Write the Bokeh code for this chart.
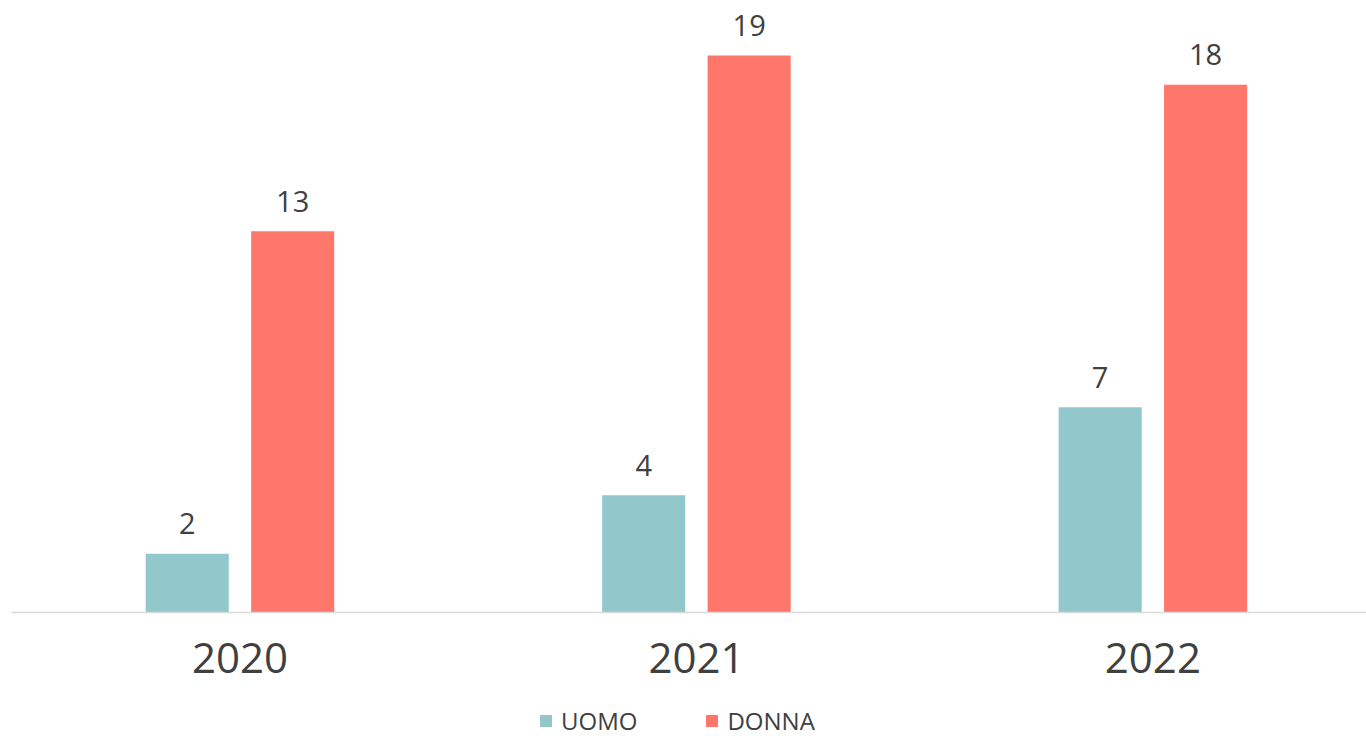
from bokeh.plotting import figure
from bokeh.models import ColumnDataSource, Range1d, FixedTicker, Legend, LegendItem
from bokeh.core.properties import value
from bokeh.transform import dodge
from bokeh.embed import file_html
from bokeh.resources import INLINE

years = ["2020", "2021", "2022"]
uomo = [2, 4, 7]
donna = [13, 19, 18]
series_names = ["UOMO", "DONNA"]
colors = ["#92C8CC", "#FF766A"]

FONT = "Open Sans"
TXT = "#404040"

idx = list(range(len(years)))
src = ColumnDataSource(dict(
    x=idx, uomo=uomo, donna=donna,
    ul=[str(v) for v in uomo], dl=[str(v) for v in donna],
))

PX = 29.32
H = 736
p = figure(width=1366, height=H, output_backend="svg", toolbar_location=None,
           x_range=Range1d(-0.5005, 2.468),
           y_range=Range1d(-(H - 612) / PX, 612 / PX),
           y_axis_location=None, min_border_left=11, min_border_right=0,
           min_border_top=0, min_border_bottom=0)
p.grid.visible = False
p.outline_line_color = None
p.background_fill_color = None
p.border_fill_color = None

off = 0.1155
bw = 0.182
r1 = p.vbar(x=dodge("x", -off), top="uomo", width=bw, source=src,
            fill_color=colors[0], line_color=None)
r2 = p.vbar(x=dodge("x", off), top="donna", width=bw, source=src,
            fill_color=colors[1], line_color=None)

for col, lab, d in (("uomo", "ul", -off), ("donna", "dl", off)):
    p.text(x=dodge("x", d), y=col, text=lab, source=src, text_align="center",
           text_baseline="alphabetic", y_offset=-30, text_font=value(FONT),
           text_font_size="29px", text_color=TXT)

ax = p.xaxis[0]
ax.fixed_location = 0
ax.ticker = FixedTicker(ticks=idx)
ax.major_label_overrides = {i: y for i, y in zip(idx, years)}
ax.major_tick_line_color = None
ax.minor_tick_line_color = None
ax.axis_line_color = "#D9D9D9"
ax.axis_line_width = 1.5
ax.major_label_text_font = FONT
ax.major_label_text_font_size = "42px"
ax.major_label_text_color = TXT
ax.major_label_standoff = 24

legend = Legend(items=[LegendItem(label=series_names[0], renderers=[r1]),
                       LegendItem(label=series_names[1], renderers=[r2])],
                orientation="horizontal", location=(527, -1),
                glyph_width=15, glyph_height=15, label_standoff=8,
                spacing=67, label_text_font=FONT, label_text_font_size="24px",
                label_text_color=TXT, background_fill_alpha=0,
                border_line_color=None, padding=2, margin=0)
p.add_layout(legend, "center")

open("out.html", "w").write(file_html(p, INLINE))
